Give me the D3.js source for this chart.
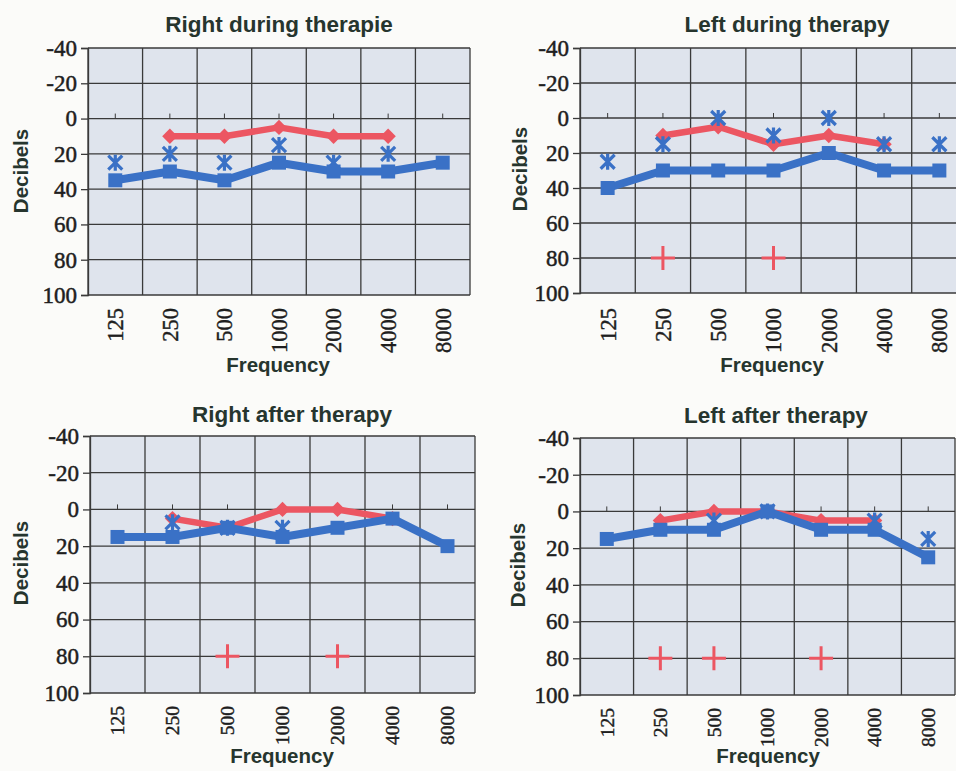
<!DOCTYPE html>
<html>
<head>
<meta charset="utf-8">
<script src="https://cdn.jsdelivr.net/npm/d3@7"></script>
<style>
  html, body { margin: 0; padding: 0; background: #fbfbf9; }
  svg { display: block; }
</style>
</head>
<body>
<svg id="chart" width="956" height="771"></svg>
<script>
// ---------- DATA ----------
const frequencies = ["125", "250", "500", "1000", "2000", "4000", "8000"];
const decibelTicks = [-40, -20, 0, 20, 40, 60, 80, 100];
const panelTitles = ["Right during therapie", "Left during therapy", "Right after therapy", "Left after therapy"];

// blue line with squares
const rightDuringBlue = [35, 30, 35, 25, 30, 30, 25];
const leftDuringBlue  = [40, 30, 30, 30, 20, 30, 30];
const rightAfterBlue  = [15, 15, 10, 15, 10, 5, 20];
const leftAfterBlue   = [15, 10, 10, 0, 10, 10, 25];

// red line with diamonds
const rightDuringRed = [null, 10, 10, 5, 10, 10, null];
const leftDuringRed  = [null, 10, 5, 15, 10, 15, null];
const rightAfterRed  = [null, 5, 10, 0, 0, 5, null];
const leftAfterRed   = [null, 5, 0, 0, 5, 5, null];

// blue asterisks
const rightDuringStar = [25, 20, 25, 15, 25, 20, null];
const leftDuringStar  = [25, 15, 0, 10, 0, 15, 15];
const rightAfterStar  = [null, 7, 10, 10, null, null, null];
const leftAfterStar   = [null, null, 5, 0, null, 5, 15];

// red plus signs
const rightDuringPlus = [null, null, null, null, null, null, null];
const leftDuringPlus  = [null, 80, null, 80, null, null, null];
const rightAfterPlus  = [null, null, 80, null, 80, null, null];
const leftAfterPlus   = [null, 80, 80, null, 80, null, null];

const panelData = [
  { title: panelTitles[0], blue: rightDuringBlue, red: rightDuringRed, star: rightDuringStar, plus: rightDuringPlus },
  { title: panelTitles[1], blue: leftDuringBlue,  red: leftDuringRed,  star: leftDuringStar,  plus: leftDuringPlus },
  { title: panelTitles[2], blue: rightAfterBlue,  red: rightAfterRed,  star: rightAfterStar,  plus: rightAfterPlus },
  { title: panelTitles[3], blue: leftAfterBlue,   red: leftAfterRed,   star: leftAfterStar,   plus: leftAfterPlus }
];

// ---------- LAYOUT ----------
const layouts = [
  { left: 88,  right: 470, top: 48,  bottom: 295, xls: 22.5, xlGap: 13, titleX: 279, titleY: 32,  freqX: 278, freqY: 372, decX: 28,  decY: 171 },
  { left: 580, right: 967, top: 48,  bottom: 293, xls: 22.5, xlGap: 15, titleX: 787, titleY: 32,  freqX: 772, freqY: 372, decX: 527, decY: 169 },
  { left: 90,  right: 475, top: 436, bottom: 693, xls: 19.5, xlGap: 13, titleX: 292, titleY: 422, freqX: 282, freqY: 763, decX: 28,  decY: 563 },
  { left: 580, right: 955, top: 438, bottom: 695, xls: 19.5, xlGap: 13, titleX: 776, titleY: 423, freqX: 768, freqY: 763, decX: 525, decY: 565 }
];

const COLORS = {
  plotBg: "#dfe4ed",
  grid: "#3a3a3a",
  blue: "#3a71c6",
  red: "#ec5662",
  title: "#26352e",
  text: "#1e1e1e"
};
const SERIF = "Liberation Serif";
const SANS = "Liberation Sans";

const svg = d3.select("#chart");

panelData.forEach((pd, i) => {
  const L = layouts[i];
  const g = svg.append("g");

  const x = d3.scaleBand().domain(frequencies).range([L.left, L.right]).padding(0);
  const y = d3.scaleLinear().domain([-40, 100]).range([L.top, L.bottom]);
  const cx = f => x(f) + x.bandwidth() / 2;

  // plot background
  g.append("rect")
    .attr("x", L.left).attr("y", L.top)
    .attr("width", L.right - L.left).attr("height", L.bottom - L.top)
    .attr("fill", COLORS.plotBg);

  // horizontal gridlines
  g.selectAll(".hgrid").data(decibelTicks).enter().append("line")
    .attr("x1", L.left).attr("x2", L.right)
    .attr("y1", d => y(d)).attr("y2", d => y(d))
    .attr("stroke", COLORS.grid).attr("stroke-width", 1.3);

  // vertical gridlines at band boundaries
  const bounds = frequencies.map(f => x(f)).concat([L.right]);
  g.selectAll(".vgrid").data(bounds).enter().append("line")
    .attr("x1", d => d).attr("x2", d => d)
    .attr("y1", L.top).attr("y2", L.bottom)
    .attr("stroke", COLORS.grid).attr("stroke-width", 1.3);

  // y axis (left) with outward ticks
  const yAxis = g.append("g")
    .attr("transform", `translate(${L.left},0)`)
    .call(d3.axisLeft(y).tickValues(decibelTicks).tickSize(7).tickPadding(4).tickFormat(d => d < 0 ? "-" + Math.abs(d) : String(d)));
  yAxis.attr("font-family", SERIF).attr("font-size", 23);
  yAxis.select(".domain").attr("stroke", COLORS.grid).attr("stroke-width", 1.3);
  yAxis.selectAll(".tick line").attr("stroke", COLORS.grid).attr("stroke-width", 1.3);
  yAxis.selectAll("text").attr("fill", COLORS.text)
    .attr("stroke", COLORS.text).attr("stroke-width", 0.5);

  // category axis crossing at 0 : small tick marks only
  const zeroAxis = g.append("g")
    .attr("transform", `translate(0,${y(0)})`)
    .call(d3.axisTop(x).tickSize(5).tickFormat(""));
  zeroAxis.select(".domain").remove();
  zeroAxis.selectAll(".tick line").attr("stroke", COLORS.grid).attr("stroke-width", 1);

  // x tick labels at the bottom (rotated)
  const xAxis = g.append("g")
    .attr("transform", `translate(0,${L.bottom})`)
    .call(d3.axisBottom(x).tickSize(0).tickPadding(0));
  xAxis.attr("font-family", SERIF).attr("font-size", L.xls);
  xAxis.select(".domain").remove();
  xAxis.selectAll("text")
    .attr("fill", COLORS.text)
    .attr("stroke", COLORS.text).attr("stroke-width", 0.4)
    .attr("text-anchor", "end")
    .attr("transform", `translate(0,${L.xlGap}) rotate(-90)`)
    .attr("x", 0).attr("y", 0).attr("dy", "0.35em");

  // title
  g.append("text")
    .attr("x", L.titleX).attr("y", L.titleY)
    .attr("text-anchor", "middle")
    .attr("font-family", SANS).attr("font-weight", "bold").attr("font-size", 22.5)
    .attr("fill", COLORS.title)
    .text(pd.title);

  // axis titles
  g.append("text")
    .attr("x", L.freqX).attr("y", L.freqY)
    .attr("text-anchor", "middle")
    .attr("font-family", SANS).attr("font-weight", "bold").attr("font-size", 20.5)
    .attr("fill", COLORS.title)
    .text("Frequency");
  g.append("text")
    .attr("transform", `translate(${L.decX},${L.decY}) rotate(-90)`)
    .attr("text-anchor", "middle")
    .attr("font-family", SANS).attr("font-weight", "bold").attr("font-size", 20.5)
    .attr("fill", COLORS.title)
    .text("Decibels");

  const toPts = arr => frequencies.map((f, k) => ({ f, v: arr[k] })).filter(d => d.v !== null);
  const line = d3.line().x(d => cx(d.f)).y(d => y(d.v));

  // red plus signs
  const plusPts = toPts(pd.plus);
  g.selectAll(".plus").data(plusPts).enter().append("path")
    .attr("d", d => `M${cx(d.f) - 12},${y(d.v)}H${cx(d.f) + 12}M${cx(d.f)},${y(d.v) - 12}V${y(d.v) + 12}`)
    .attr("stroke", COLORS.red).attr("stroke-width", 3).attr("fill", "none");

  // red line with diamonds
  const redPts = toPts(pd.red);
  g.append("path").datum(redPts)
    .attr("d", line).attr("fill", "none")
    .attr("stroke", COLORS.red).attr("stroke-width", 6.5).attr("stroke-linejoin", "round");
  g.selectAll(".diamond").data(redPts).enter().append("path")
    .attr("d", d3.symbol().type(d3.symbolDiamond2).size(150))
    .attr("transform", d => `translate(${cx(d.f)},${y(d.v)})`)
    .attr("fill", COLORS.red);

  // blue asterisks
  const starPts = toPts(pd.star);
  g.selectAll(".star").data(starPts).enter().append("path")
    .attr("d", d => {
      const px = cx(d.f), py = y(d.v), r = 7;
      return `M${px - r},${py - r}L${px + r},${py + r}M${px - r},${py + r}L${px + r},${py - r}M${px},${py - r - 1}V${py + r + 1}`;
    })
    .attr("stroke", COLORS.blue).attr("stroke-width", 3.2).attr("fill", "none");

  // blue line with squares
  const bluePts = toPts(pd.blue);
  g.append("path").datum(bluePts)
    .attr("d", line).attr("fill", "none")
    .attr("stroke", COLORS.blue).attr("stroke-width", 8).attr("stroke-linejoin", "round");
  g.selectAll(".square").data(bluePts).enter().append("rect")
    .attr("x", d => cx(d.f) - 7).attr("y", d => y(d.v) - 7)
    .attr("width", 14).attr("height", 14)
    .attr("fill", COLORS.blue);
});
</script>
</body>
</html>
